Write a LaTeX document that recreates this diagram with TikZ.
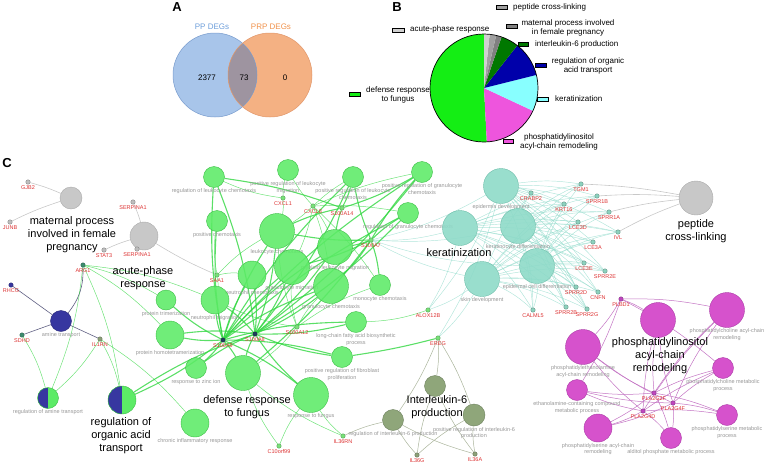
\documentclass[tikz,border=0pt]{standalone}
\usepackage{fontspec}
\setmainfont{Liberation Sans}
\usetikzlibrary{backgrounds}
\definecolor{gfill}{RGB}{92,235,102}
\definecolor{gdraw}{RGB}{60,190,70}
\definecolor{gedge}{RGB}{50,215,65}
\definecolor{cfill}{RGB}{142,218,200}
\definecolor{cdraw}{RGB}{110,190,170}
\definecolor{cedge}{RGB}{150,220,205}
\definecolor{mfill}{RGB}{214,82,204}
\definecolor{mdraw}{RGB}{170,60,165}
\definecolor{medge}{RGB}{195,115,195}
\definecolor{ofill}{RGB}{143,166,122}
\definecolor{odraw}{RGB}{110,130,95}
\definecolor{oedge}{RGB}{170,180,155}
\definecolor{yfill}{RGB}{200,200,200}
\definecolor{ydraw}{RGB}{170,170,170}
\definecolor{yedge}{RGB}{200,200,200}
\definecolor{bfill}{RGB}{55,55,160}
\definecolor{bdraw}{RGB}{40,40,120}
\definecolor{bedge}{RGB}{95,95,130}
\definecolor{genered}{RGB}{220,50,50}
\definecolor{termgray}{RGB}{150,150,150}
\definecolor{ygene}{RGB}{190,190,190}
\definecolor{cgene}{RGB}{140,210,190}
\definecolor{ggene}{RGB}{120,225,120}
\definecolor{ogene}{RGB}{140,160,120}
\definecolor{mgene}{RGB}{190,70,190}
\definecolor{navgene}{RGB}{30,60,90}
\definecolor{tealgene}{RGB}{60,140,110}
\definecolor{venblue}{RGB}{168,197,234}
\definecolor{venblued}{RGB}{120,155,205}
\definecolor{venor}{RGB}{244,177,131}
\definecolor{venord}{RGB}{225,150,105}
\definecolor{venmix}{RGB}{158,148,160}
\definecolor{ppblue}{RGB}{109,158,218}
\definecolor{prporange}{RGB}{240,145,74}
\definecolor{piegreen}{RGB}{20,238,20}
\definecolor{piepink}{RGB}{238,85,221}
\definecolor{piecyan}{RGB}{136,255,255}
\definecolor{pieblue}{RGB}{0,0,170}
\definecolor{piedkgreen}{RGB}{0,120,0}
\definecolor{pielt}{RGB}{208,208,208}
\definecolor{piemid}{RGB}{160,160,160}
\definecolor{piedk}{RGB}{128,128,128}
\begin{document}
\begin{tikzpicture}[x=1pt,y=-1pt,
 every node/.style={inner sep=0pt},
 term/.style={circle, inner sep=0pt, minimum size=#1, line width=0.4pt},
 gterm/.style={term=#1, draw=gdraw, fill=gfill, fill opacity=0.88, text opacity=1},
 cterm/.style={term=#1, draw=cdraw, fill=cfill, fill opacity=0.9, text opacity=1},
 mterm/.style={term=#1, draw=mdraw, fill=mfill},
 oterm/.style={term=#1, draw=odraw, fill=ofill},
 yterm/.style={term=#1, draw=ydraw, fill=yfill},
 bterm/.style={term=#1, draw=bdraw, fill=bfill},
 halfterm/.style={term=#1, draw=gdraw, fill=gfill, path picture={\fill[bfill] (path picture bounding box.north west) rectangle (path picture bounding box.south);}},
 gene/.style={circle, inner sep=0pt, minimum size=4.5pt, draw=#1!65!black, fill=#1, line width=0.3pt},
 glab/.style={font=\fontsize{5.5}{6.5}\selectfont, text=genered, inner sep=0.7pt},
 tlab/.style={font=\fontsize{5.5}{6.5}\selectfont, text=termgray, align=center, inner sep=0.9pt},
 big/.style={font=\fontsize{11}{13}\selectfont, align=center},
 leg/.style={font=\fontsize{8}{9}\selectfont, align=center},
 swatch/.style={draw=black, line width=0.5pt},
 panel/.style={font=\bfseries\fontsize{13}{13}\selectfont},
 gE/.style={draw=gedge, line width=1.1pt, opacity=0.8},
 ge/.style={draw=gedge, line width=0.5pt, opacity=0.7},
 ce/.style={draw=cedge, line width=0.45pt, opacity=0.75},
 me/.style={draw=medge, line width=0.5pt},
 oe/.style={draw=oedge, line width=0.5pt},
 ye/.style={draw=yedge, line width=0.6pt},
 be/.style={draw=bedge, line width=0.6pt}
]
\useasboundingbox (0,0) rectangle (764,464);

% ---------- Panel A ----------
\node[panel] (pA) at (177,7) {A};
\fill[venblue] (215,75) circle[radius=42];
\fill[venor] (270,75) circle[radius=42];
\begin{scope}
 \clip (215,75) circle[radius=42];
 \fill[venmix] (270,75) circle[radius=42];
\end{scope}
\draw[venblued, line width=0.5pt] (215,75) circle[radius=42];
\draw[venord, line width=0.5pt] (270,75) circle[radius=42];
\node[leg, text=ppblue] (tpp) at (212,27) {PP DEGs};
\node[leg, text=prporange] (tprp) at (271,27) {PRP DEGs};
\node[leg] (n1) at (207,78) {2377};
\node[leg] (n2) at (244,78) {73};
\node[leg] (n3) at (285,78) {0};

% ---------- Panel B ----------
\node[panel] (pB) at (397,7) {B};
\begin{scope}[shift={(484,88)}, yscale=-1]
 \fill[piegreen] (0,0) -- (90:54) arc[start angle=90, end angle=273, radius=54] -- cycle;
 \fill[piepink] (0,0) -- (273:54) arc[start angle=273, end angle=335, radius=54] -- cycle;
 \fill[piecyan] (0,0) -- (335:54) arc[start angle=335, end angle=374, radius=54] -- cycle;
 \fill[pieblue] (0,0) -- (14:54) arc[start angle=14, end angle=52, radius=54] -- cycle;
 \fill[piedkgreen] (0,0) -- (52:54) arc[start angle=52, end angle=71, radius=54] -- cycle;
 \fill[piedk] (0,0) -- (71:54) arc[start angle=71, end angle=77, radius=54] -- cycle;
 \fill[piemid] (0,0) -- (77:54) arc[start angle=77, end angle=84, radius=54] -- cycle;
 \fill[pielt] (0,0) -- (84:54) arc[start angle=84, end angle=90, radius=54] -- cycle;
 \draw[black, line width=0.7pt] (0,0) circle[radius=54];
\end{scope}
\filldraw[swatch, fill=piemid] (496,5.5) rectangle (507,9.5);
\node[leg, anchor=west] (b1) at (513,7) {peptide cross-linking};
\filldraw[swatch, fill=piedk] (506,24) rectangle (517,28);
\node[leg] (b2) at (568,27.5) {maternal process involved\\in female pregnancy};
\filldraw[swatch, fill=piedkgreen] (518,42) rectangle (528,46);
\node[leg, anchor=west] (b3) at (535,44) {interleukin-6 production};
\filldraw[swatch, fill=pieblue] (535,63) rectangle (546,67);
\node[leg] (b4) at (588,65.5) {regulation of organic\\acid transport};
\filldraw[swatch, fill=piecyan] (537,97) rectangle (548,101);
\node[leg, anchor=west] (b5) at (555,99) {keratinization};
\filldraw[swatch, fill=piepink] (503,139) rectangle (513,143);
\node[leg] (b6) at (559,141.5) {phosphatidylinositol\\acyl-chain remodeling};
\filldraw[swatch, fill=pielt] (392,28) rectangle (404,32);
\node[leg, anchor=west] (b7) at (410,29) {acute-phase response};
\filldraw[swatch, fill=piegreen] (349,92) rectangle (360,96);
\node[leg] (b8) at (398,94.5) {defense response\\to fungus};

% ---------- Panel C ----------
\node[panel] (pC) at (7,163) {C};

% gray terms
\node[yterm=22pt] (mat) at (71,198) {};
\node[yterm=28pt] (acu) at (144,236) {};
\node[yterm=34pt] (pep) at (696,198) {};
% blue / mixed terms
\node[bterm=21pt, label={[tlab]below:amine transport}] (amine) at (61,321) {};
\node[halfterm=21pt, label={[tlab]below:regulation of amine transport}] (rat) at (48,398) {};
\node[halfterm=28pt] (oat) at (122,400) {};
% green terms
\node[gterm=21pt, label={[tlab]below:regulation of leukocyte chemotaxis}] (g1) at (214,177) {};
\node[gterm=21pt, label={[tlab]below:{positive regulation of leukocyte\\migration}}] (g2) at (288,170) {};
\node[gterm=21pt, label={[tlab]below:{positive regulation of leukocyte\\chemotaxis}}] (g3) at (353,177) {};
\node[gterm=21pt, label={[tlab]below:{positive regulation of granulocyte\\chemotaxis}}] (g4) at (422,172) {};
\node[gterm=21pt, label={[tlab]below:regulation of granulocyte chemotaxis}] (g5) at (408,213) {};
\node[gterm=21pt, label={[tlab]below:positive chemotaxis}] (g6) at (217,221) {};
\node[gterm=35pt, label={[tlab]below:leukocyte chemotaxis}] (g7) at (277,231) {};
\node[gterm=35pt, label={[tlab]below:myeloid leukocyte migration}] (g8) at (335,247) {};
\node[gterm=28pt, label={[tlab]below:neutrophil chemotaxis}] (g9) at (252,275) {};
\node[gterm=35pt, label={[tlab]below:granulocyte migration}] (g10) at (292,267) {};
\node[gterm=35pt, label={[tlab]below:granulocyte chemotaxis}] (g11) at (331,286) {};
\node[gterm=21pt, label={[tlab]below:monocyte chemotaxis}] (g12) at (380,285) {};
\node[gterm=28pt, label={[tlab]below:neutrophil migration}] (nm) at (215,300) {};
\node[gterm=20pt, label={[tlab]below:protein trimerization}] (pt) at (166,300) {};
\node[gterm=28pt, label={[tlab]below:protein homotetramerization}] (ph) at (170,335) {};
\node[gterm=21pt, label={[tlab]below:response to zinc ion}] (zn) at (196,368) {};
\node[gterm=28pt, label={[tlab]below:chronic inflammatory response}] (ci) at (195,423) {};
\node[gterm=35pt] (df) at (243,373) {};
\node[gterm=21pt, label={[tlab]below:{long-chain fatty acid biosynthetic\\process}}] (lc) at (356,322) {};
\node[gterm=21pt, label={[tlab]below:{positive regulation of fibroblast\\proliferation}}] (pf) at (342,357) {};
\node[gterm=35pt, label={[tlab]below:response to fungus}] (rf) at (311,395) {};
% olive terms
\node[oterm=21pt, label={[tlab]below:regulation of interleukin-6 production}] (ril6) at (393,420) {};
\node[oterm=21pt] (il6p) at (435,386) {};
\node[oterm=22pt, label={[tlab]below:{positive regulation of interleukin-6\\production}}] (pil6) at (474,415) {};
% cyan terms
\node[cterm=35pt] (ker) at (460,228) {};
\node[cterm=35pt, label={[tlab]below:epidermis development}] (ed) at (501,186) {};
\node[cterm=35pt, label={[tlab]below:keratinocyte differentiation}] (kd) at (518,226) {};
\node[cterm=35pt, label={[tlab]below:epidermal cell differentiation}] (ecd) at (537,266) {};
\node[cterm=35pt, label={[tlab]below:skin development}] (sd) at (482,279) {};
% magenta terms
\node[mterm=35pt] (pi) at (658,320) {};
\node[mterm=35pt, label={[tlab]below:{phosphatidylethanolamine\\acyl-chain remodeling}}] (pe) at (583,347) {};
\node[mterm=35pt, label={[tlab]below:{phosphatidylcholine acyl-chain\\remodeling}}] (pc) at (727,310) {};
\node[mterm=21pt, label={[tlab]below:{ethanolamine-containing compound\\metabolic process}}] (ec) at (577,390) {};
\node[mterm=21pt, label={[tlab]below:{phosphatidylcholine metabolic\\process}}] (pcm) at (723,368) {};
\node[mterm=28pt, label={[tlab]below:{phosphatidylserine acyl-chain\\remodeling}}] (ps) at (598,428) {};
\node[mterm=21pt, label={[tlab]below:{phosphatidylserine metabolic\\process}}] (psm) at (727,415) {};
\node[mterm=21pt, label={[tlab]below:alditol phosphate metabolic process}] (ap) at (671,438) {};

% genes
\node[gene=ygene, label={[glab]below:GJB2}] (gjb2) at (28,182) {};
\node[gene=ygene, label={[glab]below:JUNB}] (junb) at (10,222) {};
\node[gene=ygene, label={[glab]below:SERPINA1}] (serpA) at (133,202) {};
\node[gene=ygene, label={[glab]below:SERPINA1}] (serpB) at (137,249) {};
\node[gene=ygene, label={[glab]below:STAT3}] (stat3) at (104,250) {};
\node[gene=bfill, label={[glab]below:RHCG}] (rhcg) at (11,285) {};
\node[gene=tealgene, label={[glab]below:ARG1}] (arg1) at (83,265) {};
\node[gene=tealgene, label={[glab]below:SDHD}] (sdhd) at (22,335) {};
\node[gene=ogene, label={[glab]below:IL1RN}] (il1rn) at (100,339) {};
\node[gene=ggene, label={[glab]below:SAA1}] (saa1) at (217,275) {};
\node[gene=ggene, label={[glab]below:CXCL1}] (cxcl1) at (283,198) {};
\node[gene=ggene, label={[glab]below:CXCL8}] (cxcl8) at (313,206) {};
\node[gene=ggene, label={[glab]below:S100A14}] (s14) at (342,208) {};
\node[gene=ggene, label={[glab]below:S100A7}] (s7) at (371,240) {};
\node[gene=navgene, label={[glab]below:S100A9}] (s9) at (223,340) {};
\node[gene=navgene, label={[glab]below:S100A8}] (s8) at (255,334) {};
\node[gene=ggene, label={[glab]below:S100A12}] (s12) at (297,327) {};
\node[gene=ggene, label={[glab]below:ALOX12B}] (alox) at (428,310) {};
\node[gene=ggene, label={[glab]below:EREG}] (ereg) at (438,338) {};
\node[gene=ggene, label={[glab]below:C10orf99}] (c10) at (279,446) {};
\node[gene=ggene, label={[glab]below:IL36RN}] (il36rn) at (343,436) {};
\node[gene=ogene, label={[glab]below:IL36G}] (il36g) at (417,455) {};
\node[gene=ogene, label={[glab]below:IL36A}] (il36a) at (475,454) {};
\node[gene=cgene, label={[glab]below:CRABP2}] (crabp2) at (531,193) {};
\node[gene=cgene, label={[glab]below:TGM1}] (tgm1) at (581,184) {};
\node[gene=cgene, label={[glab]below:SPRR1B}] (sprr1b) at (597,196) {};
\node[gene=cgene, label={[glab]below:KRT16}] (krt16) at (564,204) {};
\node[gene=cgene, label={[glab]below:SPRR1A}] (sprr1a) at (609,212) {};
\node[gene=cgene, label={[glab]below:LCE3D}] (lce3d) at (578,222) {};
\node[gene=cgene, label={[glab]below:IVL}] (ivl) at (618,232) {};
\node[gene=cgene, label={[glab]below:LCE3A}] (lce3a) at (593,242) {};
\node[gene=cgene, label={[glab]below:LCE3E}] (lce3e) at (584,263) {};
\node[gene=cgene, label={[glab]below:SPRR2E}] (sprr2e) at (605,271) {};
\node[gene=cgene, label={[glab]below:SPRR2D}] (sprr2d) at (576,287) {};
\node[gene=cgene, label={[glab]below:CNFN}] (cnfn) at (598,292) {};
\node[gene=cgene, label={[glab]below:CALML5}] (calml5) at (533,310) {};
\node[gene=cgene, label={[glab]below:SPRR2B}] (sprr2b) at (566,307) {};
\node[gene=cgene, label={[glab]below:SPRR2G}] (sprr2g) at (587,309) {};
\node[gene=mgene, label={[glab]below:PLBD1}] (plbd1) at (621,299) {};
\node[gene=mgene, label={[glab]below:PLA2G2F}] (pla2f) at (654,393) {};
\node[gene=mgene, label={[glab]below:PLA2G4F}] (pla4f) at (673,403) {};
\node[gene=mgene, label={[glab]below:PLA2G4D}] (pla4d) at (643,411) {};

% big labels
\node[big] (lmat) at (72,235) {maternal process\\involved in female\\pregnancy};
\node[big] (lacu) at (143,278.5) {acute-phase\\response};
\node[big] (loat) at (121,436) {regulation of\\organic acid\\transport};
\node[big] (ldf) at (247,407) {defense response\\to fungus};
\node[big] (lil6) at (437,407) {Interleukin-6\\production};
\node[big] (lker) at (459,253) {keratinization};
\node[big] (lpep) at (696,231.5) {peptide\\cross-linking};
\node[big] (lpi) at (660,356) {phosphatidylinositol\\acyl-chain\\remodeling};

% ---------- edges ----------
\begin{scope}[on background layer]
 % gray
 \foreach \a/\b in {gjb2/mat, junb/mat, serpA/acu, serpB/acu, stat3/acu, saa1/acu, tgm1/pep, sprr1b/pep, sprr1a/pep, ivl/pep}
  \draw[ye] (\a) to[bend left=4] (\b);
 % blue
 \foreach \a/\b in {rhcg/amine, sdhd/amine, il1rn/amine}
  \draw[be] (\a) -- (\b);
 \draw[be] (arg1) to[bend left=20] (amine);
 % cyan
 \foreach \t in {ker,ed,kd,ecd,sd}
  \foreach \g in {tgm1,sprr1b,krt16,sprr1a,lce3d,ivl,lce3a,lce3e,sprr2e,sprr2d,cnfn,calml5,sprr2b,sprr2g,s7}
   \draw[ce] (\g) to[bend right=8] (\t);
 \foreach \a/\b in {crabp2/ed, crabp2/kd, crabp2/sd, alox/ed, alox/sd, alox/ker, ereg/sd, ereg/ed}
  \draw[ce] (\a) to[bend right=8] (\b);
 % magenta
 \foreach \g in {pla2f,pla4f,pla4d}
  \foreach \t in {pi,pe,pc,ec,pcm,ps,psm,ap}
   \draw[me] (\g) to[bend left=6] (\t);
 \foreach \t in {pi,pc,pe,ec,pcm}
  \draw[me] (plbd1) to[bend left=6] (\t);
 % olive
 \foreach \a/\b in {il36g/ril6, il36g/il6p, il36g/pil6, il36a/ril6, il36a/il6p, il36a/pil6, ereg/ril6, ereg/il6p, ereg/pil6, il36rn/ril6}
  \draw[oe] (\a) to[bend left=6] (\b);
 % green thick
 \foreach \b in {g1,g3,g4,g5,g6,g7,g8,g9,g10,g11,nm,pt,ph,zn,df,rf,lc,pf,oat}
  \draw[gE] (s9) to[bend left=7] (\b);
 \foreach \b in {g1,g3,g4,g5,g7,g8,g9,g10,g11,nm,ph,zn,df,rf,lc,pf,oat}
  \draw[gE] (s8) to[bend right=7] (\b);
 \foreach \b in {g3,g4,g5,g7,g8,g10,g11,g12,df}
  \draw[gE] (s7) to[bend left=6] (\b);
 \foreach \b in {g1,g3,g4,g7,g8}
  \draw[gE] (s14) to[bend right=6] (\b);
 \foreach \b in {g2,g3,g4,g5,g7,g8,g10,g11,g12}
  \draw[ge] (cxcl8) to[bend left=6] (\b);
 \draw[gE] (ereg) to[bend left=3] (pf);
 % green thin
 \foreach \a/\b in {cxcl1/g2, cxcl1/g7, cxcl1/g1, saa1/g9, saa1/g6, saa1/nm, saa1/g7, s12/g7, s12/g10, s12/g11, s12/nm, s12/df, s12/g12, arg1/pt, arg1/ph, arg1/nm, arg1/rat, arg1/oat, il1rn/ci, il1rn/rat, il1rn/oat, c10/df, c10/rf, il36rn/df, il36rn/rf, alox/lc, sdhd/rat}
  \draw[ge] (\a) to[bend left=8] (\b);
\end{scope}
\end{tikzpicture}
\end{document}
